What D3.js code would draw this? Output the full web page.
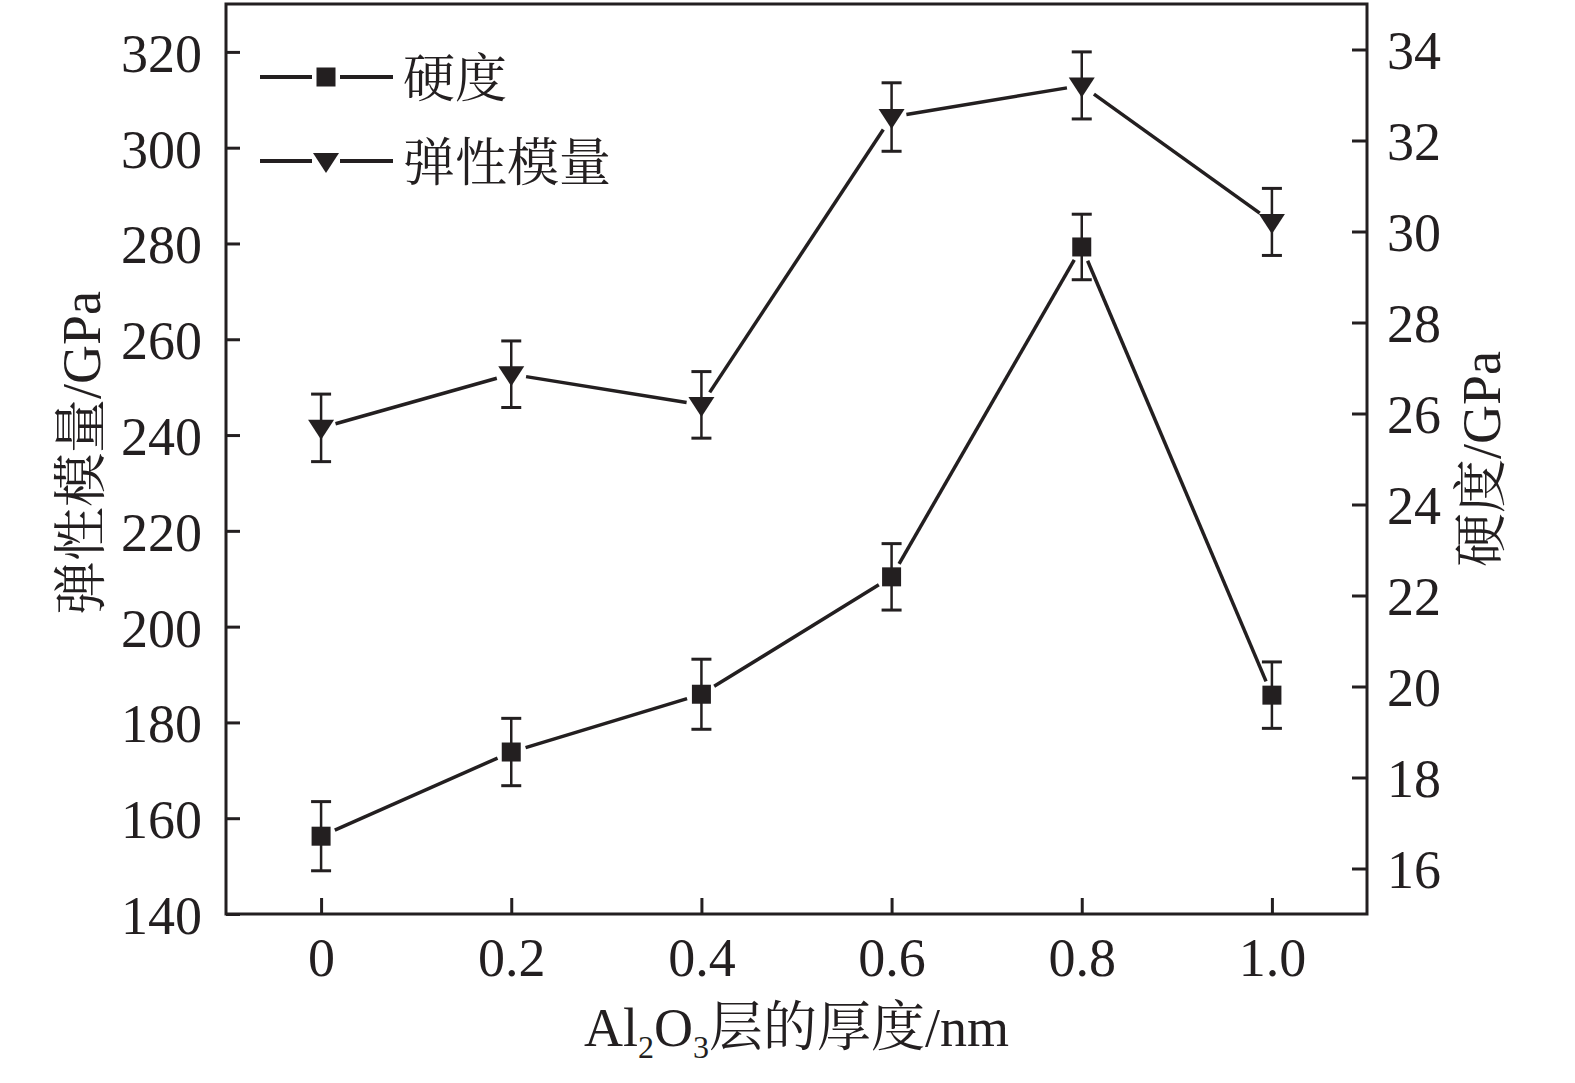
<!DOCTYPE html>
<html>
<head>
<meta charset="utf-8">
<script src="https://cdn.jsdelivr.net/npm/d3@7"></script>
<style>
  html, body { margin: 0; padding: 0; background: #fff; }
  svg { display: block; }
  text { font-family: "Liberation Serif", "Times New Roman", "Noto Serif CJK SC", "Noto Sans CJK SC", serif; fill: #231f20; }
</style>
</head>
<body>
<svg id="chart" width="1575" height="1083"></svg>
<script>
// ---- data ----
const thickness = [0, 0.2, 0.4, 0.6, 0.8, 1.0];
const hardness = [16.71, 18.56, 19.83, 22.41, 29.66, 19.81];       // GPa, right axis
const hardnessErr = [0.76, 0.74, 0.77, 0.73, 0.72, 0.73];
const modulus = [241.5, 252.7, 246.3, 306.4, 313.0, 284.5];         // GPa, left axis
const modulusErr = [7.05, 6.95, 6.95, 7.15, 7.0, 7.0];

const xTickValues = [0, 0.2, 0.4, 0.6, 0.8, 1.0];
const xTickLabels = ["0", "0.2", "0.4", "0.6", "0.8", "1.0"];
const leftTickValues = [140, 160, 180, 200, 220, 240, 260, 280, 300, 320];
const rightTickValues = [16, 18, 20, 22, 24, 26, 28, 30, 32, 34];

const legendLabels = ["硬度", "弹性模量"];
const xTitle = ["Al", "2", "O", "3", "层的厚度/nm"];
const leftTitle = "弹性模量/GPa";
const rightTitle = "硬度/GPa";

// ---- layout ----
const ink = "#231f20";
const L = 226, R = 1367, T = 4, B = 914;
const svg = d3.select("#chart");

const x = d3.scaleLinear().domain([-0.1, 1.1]).range([L, R]);
const yL = d3.scaleLinear().domain([140, 330]).range([B, T]);
const yR = d3.scaleLinear().domain([15, 35]).range([B, T]);

const tickFont = 54;

// x axis
const gx = svg.append("g").attr("transform", `translate(0,${B})`)
  .call(d3.axisBottom(x).tickValues(xTickValues)
    .tickFormat((d, i) => xTickLabels[i]).tickSize(-16).tickPadding(24));
// left axis
const gl = svg.append("g").attr("transform", `translate(${L},0)`)
  .call(d3.axisLeft(yL).tickValues(leftTickValues).tickFormat(d3.format("d"))
    .tickSize(-14).tickPadding(24));
// right axis
const gr = svg.append("g").attr("transform", `translate(${R},0)`)
  .call(d3.axisRight(yR).tickValues(rightTickValues).tickFormat(d3.format("d"))
    .tickSize(-15).tickPadding(20));

[gx, gl, gr].forEach(g => {
  g.select(".domain").remove();
  g.selectAll(".tick line").attr("stroke", ink).attr("stroke-width", 3);
  g.selectAll(".tick text").attr("font-size", tickFont)
    .attr("font-family", '"Liberation Serif", "Times New Roman", serif').attr("fill", ink);
});
gl.selectAll(".tick text").attr("dy", "0.36em");
gr.selectAll(".tick text").attr("dy", "0.36em");

// frame
svg.append("rect").attr("x", L).attr("y", T).attr("width", R - L).attr("height", B - T)
  .attr("fill", "none").attr("stroke", ink).attr("stroke-width", 3);

// ---- series drawing helpers ----
const gap = 15;
function drawSeries(vals, errs, yScale, marker) {
  const pts = thickness.map((t, i) => [x(t), yScale(vals[i])]);
  const g = svg.append("g");
  // connecting segments with gap near symbols
  for (let i = 0; i < pts.length - 1; i++) {
    const [x1, y1] = pts[i], [x2, y2] = pts[i + 1];
    const dx = x2 - x1, dy = y2 - y1, len = Math.hypot(dx, dy);
    const ux = dx / len, uy = dy / len;
    g.append("line")
      .attr("x1", x1 + ux * gap).attr("y1", y1 + uy * gap)
      .attr("x2", x2 - ux * gap).attr("y2", y2 - uy * gap)
      .attr("stroke", ink).attr("stroke-width", 3.5);
  }
  // error bars
  thickness.forEach((t, i) => {
    const cx = x(t), yt = yScale(vals[i] + errs[i]), yb = yScale(vals[i] - errs[i]);
    g.append("line").attr("x1", cx).attr("x2", cx).attr("y1", yt).attr("y2", yb)
      .attr("stroke", ink).attr("stroke-width", 2.5);
    [yt, yb].forEach(yy => g.append("line").attr("x1", cx - 10).attr("x2", cx + 10)
      .attr("y1", yy).attr("y2", yy).attr("stroke", ink).attr("stroke-width", 3));
  });
  // markers
  pts.forEach(([cx, cy]) => marker(g, cx, cy));
}
function squareMarker(g, cx, cy) {
  g.append("rect").attr("x", cx - 9.5).attr("y", cy - 9.5).attr("width", 19).attr("height", 19)
    .attr("fill", ink);
}
function triMarker(g, cx, cy) {
  g.append("path").attr("d", `M${cx - 13},${cy - 8}L${cx + 13},${cy - 8}L${cx},${cy + 12}Z`)
    .attr("fill", ink);
}

drawSeries(modulus, modulusErr, yL, triMarker);
drawSeries(hardness, hardnessErr, yR, squareMarker);

// ---- legend ----
const legendRows = [{ y: 77, marker: squareMarker }, { y: 161, marker: triMarker }];
legendRows.forEach((r, i) => {
  const g = svg.append("g");
  g.append("line").attr("x1", 260).attr("x2", 312).attr("y1", r.y).attr("y2", r.y)
    .attr("stroke", ink).attr("stroke-width", 4);
  g.append("line").attr("x1", 340).attr("x2", 393).attr("y1", r.y).attr("y2", r.y)
    .attr("stroke", ink).attr("stroke-width", 4);
  r.marker(g, 326, r.y);
  g.append("text").attr("x", 403).attr("y", r.y + 20).attr("font-size", 52)
    .text(legendLabels[i]);
});

// ---- axis titles ----
const xt = svg.append("text").attr("x", (L + R) / 2).attr("y", 1046)
  .attr("text-anchor", "middle").attr("font-size", 54);
xt.append("tspan").text(xTitle[0]);
xt.append("tspan").attr("font-size", 32).attr("dy", 12).text(xTitle[1]);
xt.append("tspan").attr("dy", -12).text(xTitle[2]);
xt.append("tspan").attr("font-size", 32).attr("dy", 12).text(xTitle[3]);
xt.append("tspan").attr("dy", -12).text(xTitle[4]);

svg.append("text").attr("transform", `translate(100,${(T + B) / 2 - 6}) rotate(-90)`)
  .attr("text-anchor", "middle").attr("font-size", 54).text(leftTitle);
svg.append("text").attr("transform", `translate(1500,${(T + B) / 2}) rotate(-90)`)
  .attr("text-anchor", "middle").attr("font-size", 54).text(rightTitle);
</script>
</body>
</html>
